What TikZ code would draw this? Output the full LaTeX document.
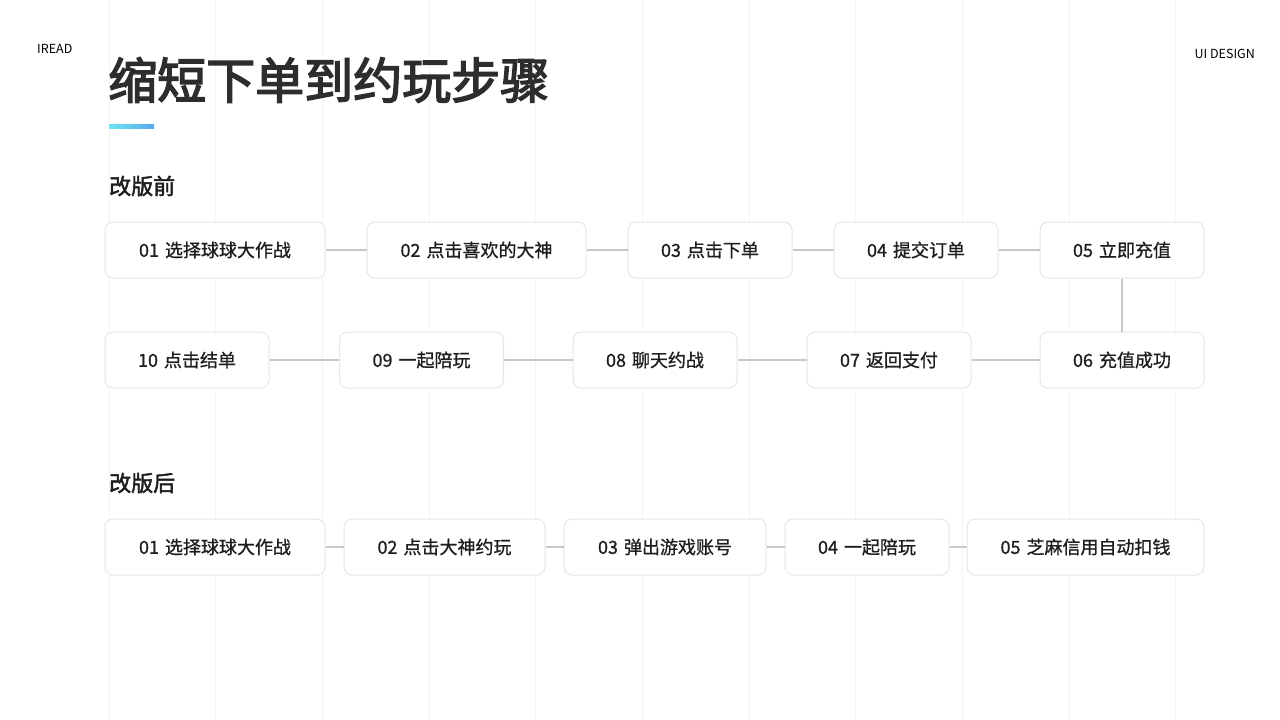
\documentclass[tikz,border=0pt]{standalone}
\usepackage{fontspec}
\setmainfont{Noto Sans CJK SC}
\newfontfamily\headfont[FakeBold=3]{Noto Sans CJK SC}
\newfontfamily\midfont[FakeBold=2]{Noto Sans CJK SC}
\newfontfamily\bodyfont[FakeBold=0.9]{Noto Sans CJK SC}
\usetikzlibrary{positioning}
\definecolor{gridGray}{RGB}{244,244,244}
\definecolor{boxGray}{RGB}{230,230,230}
\definecolor{lineGray}{RGB}{200,200,200}
\definecolor{inkDark}{RGB}{30,30,30}
\definecolor{titleInk}{RGB}{45,45,45}
\definecolor{barCyan}{RGB}{110,228,240}
\definecolor{barBlue}{RGB}{88,170,240}
\tikzset{
	stepbox/.style={
		draw=boxGray,
		fill=white,
		line width=1pt,
		rounded corners=8pt,
		minimum height=56pt,
		inner sep=0pt,
		text=inkDark,
		font=\bodyfont\fontsize{18}{20}\selectfont
	},
	sline/.style={line width=1.5pt, lineGray},
	seclabel/.style={anchor=west, inner sep=0pt, text=inkDark, font=\midfont\fontsize{22}{24}\selectfont}
}
\begin{document}
\begin{tikzpicture}[x=1pt, y=-1pt]
		\useasboundingbox (0,0) rectangle (1280,720);
		\fill[white] (0,0) rectangle (1280,720);
		% faint column grid
		\foreach \i in {0,...,10}
			\draw[gridGray, line width=1pt] ({109+\i*106.67},0) -- ({109+\i*106.67},720);
		\node[anchor=west, inner sep=0pt, font=\fontsize{12.5}{14}\selectfont] (brand) at (37,49) {IREAD};
		\node[anchor=east, inner sep=0pt, font=\fontsize{12.5}{14}\selectfont] (tag) at (1255,54) {UI DESIGN};
		\node[anchor=west, inner sep=0pt, text=titleInk, font=\headfont\fontsize{49}{53}\selectfont] (title) at (108,80)
			{缩短下单到约玩步骤};
		\shade[left color=barCyan, right color=barBlue] (109,124) rectangle (154,128);
		% before
		\node[seclabel] (before) at (109,186) {改版前};
		\node[stepbox, minimum width=220pt] (A1) at (215,250) {01\,\,选择球球大作战};
		\node[stepbox, minimum width=219pt] (A2) at (476.5,250) {02\,\,点击喜欢的大神};
		\node[stepbox, minimum width=164pt] (A3) at (710,250) {03\,\,点击下单};
		\node[stepbox, minimum width=164pt] (A4) at (916,250) {04\,\,提交订单};
		\node[stepbox, minimum width=164pt] (A5) at (1122,250) {05\,\,立即充值};
		\node[stepbox, minimum width=164pt] (A6) at (1122,360) {06\,\,充值成功};
		\node[stepbox, minimum width=164pt] (A7) at (889,360) {07\,\,返回支付};
		\node[stepbox, minimum width=164pt] (A8) at (655,360) {08\,\,聊天约战};
		\node[stepbox, minimum width=164pt] (A9) at (421.5,360) {09\,\,一起陪玩};
		\node[stepbox, minimum width=164pt] (A10) at (187,360) {10\,\,点击结单};
		\draw[sline] (A1) -- (A2);
		\draw[sline] (A2) -- (A3);
		\draw[sline] (A3) -- (A4);
		\draw[sline] (A4) -- (A5);
		\draw[sline] (A5) -- (A6);
		\draw[sline] (A6) -- (A7);
		\draw[sline] (A7) -- (A8);
		\draw[sline] (A8) -- (A9);
		\draw[sline] (A9) -- (A10);
		% after
		\node[seclabel] (after) at (109,483) {改版后};
		\node[stepbox, minimum width=220pt] (B1) at (215,547) {01\,\,选择球球大作战};
		\node[stepbox, minimum width=201pt] (B2) at (444.5,547) {02\,\,点击大神约玩};
		\node[stepbox, minimum width=202pt] (B3) at (665,547) {03\,\,弹出游戏账号};
		\node[stepbox, minimum width=164pt] (B4) at (867,547) {04\,\,一起陪玩};
		\node[stepbox, minimum width=237pt] (B5) at (1085.5,547) {05\,\,芝麻信用自动扣钱};
		\draw[sline] (B1) -- (B2);
		\draw[sline] (B2) -- (B3);
		\draw[sline] (B3) -- (B4);
		\draw[sline] (B4) -- (B5);
	\end{tikzpicture}
\end{document}
